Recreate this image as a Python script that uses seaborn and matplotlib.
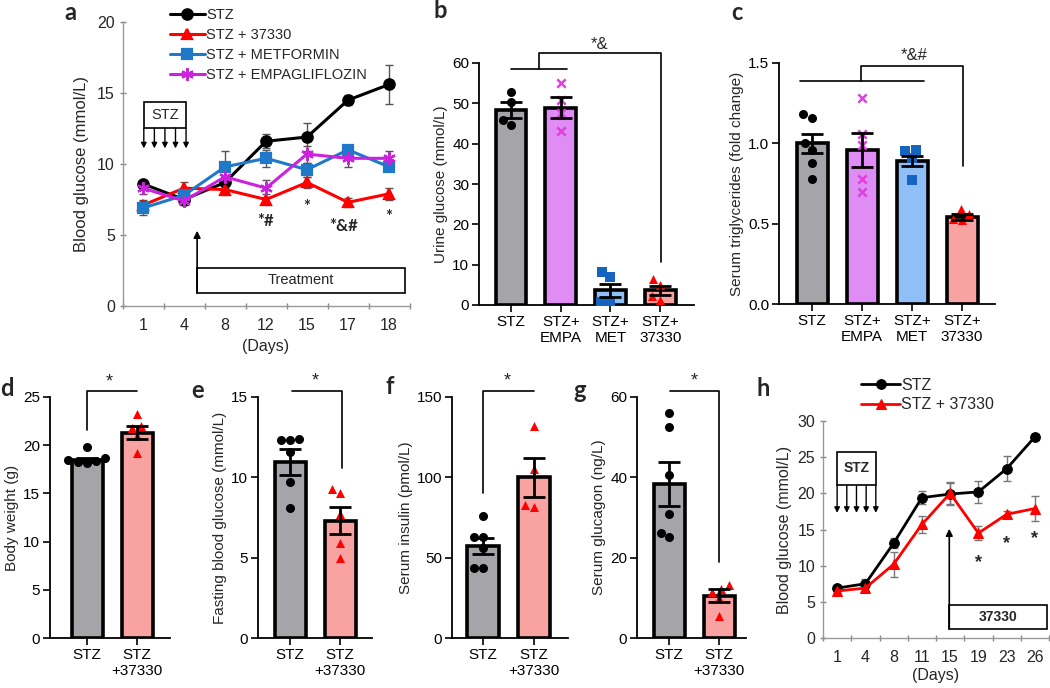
import numpy as np
import pandas as pd
import seaborn as sns
import matplotlib.pyplot as plt
from matplotlib.patches import Rectangle

# ---- panel a: blood glucose, 4 groups ----
days_a = ["1", "4", "8", "12", "15", "17", "18"]
series_a = ["STZ", "STZ + 37330", "STZ + METFORMIN", "STZ + EMPAGLIFLOZIN"]
stz_a = [8.6, 7.5, 8.7, 11.6, 11.9, 14.5, 15.6]
stz_a_err = [0.3, 0.3, 0.4, 0.5, 1.0, 0.35, 1.35]
c37330_a = [7.1, 8.3, 8.2, 7.5, 8.7, 7.3, 7.9]
c37330_a_err = [0.4, 0.4, 0.4, 0.4, 0.4, 0.3, 0.4]
met_a = [6.9, 7.8, 9.8, 10.4, 9.6, 11.0, 9.8]
met_a_err = [0.5, 0.3, 1.1, 0.6, 0.5, 0.3, 0.3]
empa_a = [8.3, 7.4, 9.1, 8.3, 10.7, 10.4, 10.4]
empa_a_err = [0.4, 0.3, 0.5, 0.6, 0.6, 0.6, 0.5]
sig_a = ["*#", "*", "*&#", "*"]
sig_a_day = ["12", "15", "17", "18"]
sig_a_y = [6.0, 7.0, 5.6, 6.3]

# ---- panel b: urine glucose ----
groups4 = ["STZ", "STZ+\nEMPA", "STZ+\nMET", "STZ+\n37330"]
urine_mean = [48.4, 48.9, 3.7, 3.6]
urine_sem = [2.0, 2.6, 1.6, 1.1]
urine_pts = [[52.9, 50.4, 44.7, 45.9],
             [55.1, 50.9, 47.6, 43.2],
             [8.2, 7.0, 0.8, 0.4],
             [4.9, 6.4, 1.2, 2.2]]

# ---- panel c: serum triglycerides ----
tg_mean = [1.0, 0.96, 0.89, 0.54]
tg_sem = [0.06, 0.105, 0.03, 0.02]
tg_pts = [[1.16, 1.18, 0.96, 1.0, 0.88, 0.78],
          [1.28, 1.06, 0.99, 0.78, 0.70],
          [0.96, 0.95, 0.91, 0.77],
          [0.52, 0.56, 0.59, 0.53]]

# ---- panels d-g: STZ vs STZ+37330 ----
groups2 = ["STZ", "STZ\n+37330"]
bw_mean = [18.5, 21.3]
bw_sem = [0.2, 0.7]
bw_pts = [[19.8, 18.7, 18.5, 18.4, 18.3, 18.2], [23.2, 22.0, 21.8, 21.0, 19.2]]

fbg_mean = [10.95, 7.3]
fbg_sem = [0.8, 0.85]
fbg_pts = [[12.3, 12.4, 12.3, 11.6, 9.7, 8.1], [9.0, 9.3, 7.7, 5.9, 5.0]]

ins_mean = [57.2, 100.0]
ins_sem = [4.8, 12.0]
ins_pts = [[75.9, 62.8, 62.8, 56.0, 43.6, 43.6], [131.9, 105.0, 81.5, 82.8]]

gcg_mean = [38.3, 10.5]
gcg_sem = [5.5, 1.6]
gcg_pts = [[56.0, 52.5, 40.5, 30.8, 25.1, 26.1], [11.4, 13.3, 12.2, 10.0, 5.5]]

# ---- panel h: blood glucose, 2 groups ----
days_h = ["1", "4", "8", "11", "15", "19", "23", "26"]
stz_h = [6.9, 7.5, 13.1, 19.4, 19.9, 20.2, 23.4, 27.8]
stz_h_err = [0.3, 0.6, 0.7, 0.9, 1.5, 1.5, 1.7, 0.4]
c37330_h = [6.5, 6.9, 10.2, 15.7, 20.0, 14.5, 17.1, 17.9]
c37330_h_err = [0.3, 0.4, 1.7, 1.2, 1.5, 1.0, 0.5, 1.7]
sig_h_day = ["19", "23", "26"]
sig_h_y = [10.4, 13.1, 13.8]

GRAY = "#a4a4a9"
BAR4 = [GRAY, "#df8cf4", "#90bff8", "#f9a2a2"]
PT4 = ["black", "#e040e0", "#1565c0", "#ff0000"]
MK4 = ["o", "X", "s", "^"]
BAR2 = [GRAY, "#f9a2a2"]
PT2 = ["black", "#ff0000"]
MK2 = ["o", "^"]


def px_axes(fig, left, top, right, bottom):
    return fig.add_axes([left / 1050, 1 - bottom / 688, (right - left) / 1050, (bottom - top) / 688])


def bar_panel(ax, labels, means, sems, pts, bar_colors, pt_colors, markers, ylim, yticks, ylabel, xlim):
    sns.barplot(x=labels, y=means, hue=labels, palette=bar_colors, legend=False, width=0.62,
                edgecolor="black", linewidth=2.6, saturation=1, errorbar=None, ax=ax, zorder=1)
    for lab, v, c, m in zip(labels, pts, pt_colors, markers):
        if m == "X":
            sns.swarmplot(x=[lab] * len(v), y=v, order=labels, color=c, marker="x", size=6,
                          linewidth=1.8, ax=ax, zorder=3)
        else:
            sns.swarmplot(x=[lab] * len(v), y=v, order=labels, color=c, marker=m, size=6.5,
                          linewidth=0, ax=ax, zorder=3)
    ax.errorbar(range(len(labels)), means, yerr=sems, fmt="none", ecolor="black",
                elinewidth=2, capsize=8, capthick=2, zorder=4)
    ax.set_ylim(*ylim)
    ax.set_yticks(yticks)
    ax.set_xlim(*xlim)
    ax.set_ylabel(ylabel, fontsize=11, labelpad=3)
    ax.set_xlabel("")
    sns.despine(ax=ax)
    for s in ["left", "bottom"]:
        ax.spines[s].set_linewidth(1.3)
        ax.spines[s].set_color("black")
    ax.tick_params(axis="both", length=5, width=1.2, labelsize=11, colors="black", pad=2)


def bracket(ax, pts, text, tx, ty, fs=13):
    xs, ys = zip(*pts)
    ax.plot(xs, ys, color="black", lw=1.2, clip_on=False, zorder=5)
    ax.text(tx, ty, text, ha="center", va="center", fontsize=fs, clip_on=False)


def line_panel_style(ax, days):
    n = len(days)
    ax.set_xlim(-0.5, n - 0.5)
    ax.set_xticks(np.arange(-0.5, n, 1))
    ax.set_xticklabels([""] * (n + 1))
    ax.set_xticks(range(n), labels=days, minor=True)
    ax.tick_params(axis="x", which="major", length=5, width=1, color="#888888", direction="inout")
    ax.tick_params(axis="x", which="minor", length=0, labelsize=11.5, pad=9)
    ax.tick_params(axis="y", length=4, width=1, color="#888888", labelsize=11.5, direction="inout")
    sns.despine(ax=ax)
    for s in ["left", "bottom"]:
        ax.spines[s].set_color("#999999")
        ax.spines[s].set_linewidth(1.0)


sns.set_style("ticks")
plt.rcParams["font.family"] = ["Liberation Sans", "DejaVu Sans"]

fig = plt.figure(figsize=(10.5, 6.88), dpi=100)

# ================= panel a =================
ax = px_axes(fig, 122.5, 22, 409.5, 306)
cols_a = ["black", "#ff0000", "#1f78c8", "#cc22dd"]
mk_a = ["o", "^", "s", (6, 2, 0)]
for name, vals, errs, c, m in zip(series_a, [stz_a, c37330_a, met_a, empa_a],
                                  [stz_a_err, c37330_a_err, met_a_err, empa_a_err], cols_a, mk_a):
    df = pd.DataFrame({"day": days_a, "glucose": vals})
    ms = 9 if m == mk_a[3] else 7.5
    sns.lineplot(data=df, x="day", y="glucose", sort=False, color=c, marker=m, ms=ms, mec=c,
                 mew=1.6, lw=2.2, label=name, ax=ax, zorder=3)
handles, labels = ax.get_legend_handles_labels()
for name, vals, errs in zip(series_a, [stz_a, c37330_a, met_a, empa_a],
                            [stz_a_err, c37330_a_err, met_a_err, empa_a_err]):
    ax.errorbar(days_a, vals, yerr=errs, fmt="none", ecolor="#555555", elinewidth=1, capsize=3, zorder=2)
ax.legend(handles, labels, loc="upper left", bbox_to_anchor=(0.165, 1.05), frameon=False, fontsize=10.5,
          handlelength=2.4, handletextpad=0.1, labelspacing=0.42, borderpad=0, borderaxespad=0)
line_panel_style(ax, days_a)
ax.set_ylim(0, 20)
ax.set_yticks([0, 5, 10, 15, 20])
ax.set_xlabel("(Days)", fontsize=11.5, labelpad=4)
ax.set_ylabel("Blood glucose (mmol/L)", fontsize=12, labelpad=6)
for d, t, y in zip(sig_a_day, sig_a, sig_a_y):
    ax.text(days_a.index(d) - (0.1 if t == "*&#" else 0), y, t, ha="center", va="center",
            fontsize=12, fontweight="bold", family=["Lato", "DejaVu Sans"])
ax.add_patch(Rectangle((0.02, 12.54), 1.03, 1.83, fill=False, ec="black", lw=1.2, zorder=4))
ax.text(0.54, 13.45, "STZ", ha="center", va="center", fontsize=10.5)
for x in np.linspace(0.02, 1.05, 5):
    ax.annotate("", xy=(x, 11.1), xytext=(x, 12.54),
                arrowprops=dict(arrowstyle="-|>", color="black", lw=1, mutation_scale=8, shrinkA=0, shrinkB=0))
ax.add_patch(Rectangle((1.32, 0.92), 5.07, 1.76, fill=False, ec="black", lw=1.2, clip_on=False, zorder=4))
ax.text(3.85, 1.8, "Treatment", ha="center", va="center", fontsize=10.5)
ax.annotate("", xy=(1.32, 5.3), xytext=(1.32, 0.92),
            arrowprops=dict(arrowstyle="-|>", color="black", lw=1.2, mutation_scale=10, shrinkA=0, shrinkB=0))

# ================= panel b =================
ax = px_axes(fig, 479, 63, 694, 305)
bar_panel(ax, groups4, urine_mean, urine_sem, urine_pts, BAR4, PT4, MK4,
          (0, 60), [0, 10, 20, 30, 40, 50, 60], "Urine glucose (mmol/L)", (-0.644, 3.68))
bracket(ax, [(0, 58.6), (1.12, 58.6)], "", 0, 0)
bracket(ax, [(0.56, 58.6), (0.56, 62.5), (3.02, 62.5), (3.02, 10.7)], "*&", 1.79, 64.6, fs=12)

# ================= panel c =================
ax = px_axes(fig, 779, 63, 995, 304)
bar_panel(ax, groups4, tg_mean, tg_sem, tg_pts, BAR4, PT4, MK4,
          (0, 1.5), [0.0, 0.5, 1.0, 1.5], "Serum triglycerides (fold change)", (-0.66, 3.66))
ax.set_yticklabels(["0.0", "0.5", "1.0", "1.5"])
bracket(ax, [(-0.24, 1.39), (2.24, 1.39)], "", 0, 0)
bracket(ax, [(0.98, 1.39), (0.98, 1.48), (3.02, 1.48), (3.02, 0.86)], "*&#", 2.04, 1.545, fs=12)

# ================= panel d =================
ax = px_axes(fig, 50, 397, 170, 638)
bar_panel(ax, groups2, bw_mean, bw_sem, bw_pts, BAR2, PT2, MK2,
          (0, 25), [0, 5, 10, 15, 20, 25], "Body weight (g)", (-0.74, 1.66))
bracket(ax, [(0, 21.6), (0, 25.6), (1, 25.6)], "*", 0.45, 26.6)

# ================= panel e =================
ax = px_axes(fig, 258, 397, 372, 638)
bar_panel(ax, groups2, fbg_mean, fbg_sem, fbg_pts, BAR2, PT2, MK2,
          (0, 15), [0, 5, 10, 15], "Fasting blood glucose (mmol/L)", (-0.64, 1.64))
bracket(ax, [(0.03, 15.4), (1.03, 15.4), (1.03, 10.6)], "*", 0.5, 16.0)

# ================= panel f =================
ax = px_axes(fig, 452, 397, 568, 638)
bar_panel(ax, groups2, ins_mean, ins_sem, ins_pts, BAR2, PT2, MK2,
          (0, 150), [0, 50, 100, 150], "Serum insulin (pmol/L)", (-0.61, 1.66))
bracket(ax, [(0, 90.2), (0, 153.7), (1, 153.7)], "*", 0.47, 160)

# ================= panel g =================
ax = px_axes(fig, 637, 397, 746, 638)
bar_panel(ax, groups2, gcg_mean, gcg_sem, gcg_pts, BAR2, PT2, MK2,
          (0, 60), [0, 20, 40, 60], "Serum glucagon (ng/L)", (-0.64, 1.54))
bracket(ax, [(0.02, 61.5), (1.0, 61.5), (1.0, 18.9)], "*", 0.5, 64)

# ================= panel h =================
ax = px_axes(fig, 823, 421, 1049, 638)
for name, vals, c, m in zip(["STZ", "STZ + 37330"], [stz_h, c37330_h], ["black", "#ff0000"], ["o", "^"]):
    df = pd.DataFrame({"day": days_h, "glucose": vals})
    sns.lineplot(data=df, x="day", y="glucose", sort=False, color=c, marker=m, ms=7, mec=c,
                 lw=2, label=name, ax=ax, zorder=3)
handles, labels = ax.get_legend_handles_labels()
for vals, errs in zip([stz_h, c37330_h], [stz_h_err, c37330_h_err]):
    ax.errorbar(days_h, vals, yerr=errs, fmt="none", ecolor="#777777", elinewidth=1, capsize=3, zorder=2)
ax.legend(handles, labels, loc="upper left", bbox_to_anchor=(0.17, 1.2), frameon=False, fontsize=11.5,
          handlelength=2.4, handletextpad=0.1, labelspacing=0.3, borderpad=0, borderaxespad=0)
line_panel_style(ax, days_h)
ax.set_ylim(0, 30)
ax.set_yticks([0, 5, 10, 15, 20, 25, 30])
ax.set_xlabel("(Days)", fontsize=11.5, labelpad=2)
ax.set_ylabel("Blood glucose (mmol/L)", fontsize=11.5, labelpad=4)
for d, y in zip(sig_h_day, sig_h_y):
    ax.text(days_h.index(d), y, "*", ha="center", va="center", fontsize=13, fontweight="bold")
ax.add_patch(Rectangle((0, 21.1), 1.37, 4.6, fill=False, ec="black", lw=1.2, zorder=4))
ax.text(0.68, 23.5, "STZ", ha="center", va="center", fontsize=10, fontweight="bold")
for x in np.linspace(0, 1.37, 5):
    ax.annotate("", xy=(x, 17.3), xytext=(x, 21.1),
                arrowprops=dict(arrowstyle="-|>", color="black", lw=1, mutation_scale=8, shrinkA=0, shrinkB=0))
ax.add_patch(Rectangle((3.97, 1.24), 3.45, 3.32, fill=False, ec="black", lw=1.2, clip_on=False, zorder=4))
ax.text(5.7, 2.9, "37330", ha="center", va="center", fontsize=10, fontweight="bold")
ax.annotate("", xy=(3.97, 15.1), xytext=(3.97, 1.24),
            arrowprops=dict(arrowstyle="-|>", color="black", lw=1.2, mutation_scale=10, shrinkA=0, shrinkB=0))

# panel letters
for t, x, y in [("a", 70, 12), ("b", 440, 11), ("c", 737, 12), ("d", 7, 388),
                ("e", 198, 390), ("f", 390, 387), ("g", 580, 390), ("h", 763, 388)]:
    fig.text(x / 1050, 1 - y / 688, t, ha="center", va="center", fontsize=17, fontweight="bold",
             family=["Lato", "DejaVu Sans"])

fig.savefig("out.png", dpi=100)
